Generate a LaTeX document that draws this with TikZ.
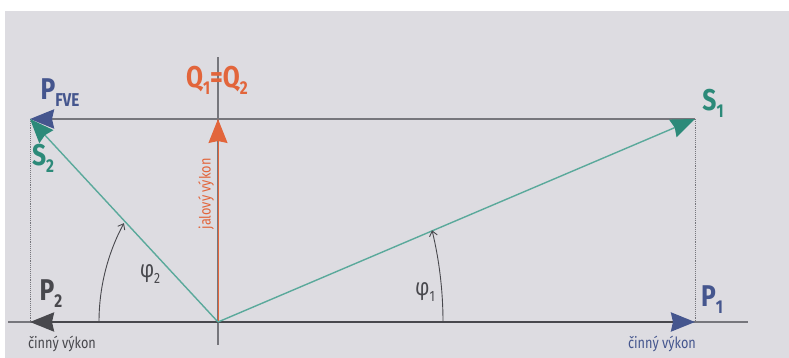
\documentclass[tikz,border=0pt]{standalone}
\usepackage{fontspec}
\setmainfont[FakeStretch=0.82]{Fira Sans}
\usetikzlibrary{arrows.meta}
\definecolor{bgrey}{HTML}{DDDCE1}
\definecolor{axgrey}{HTML}{76767C}
\definecolor{dgrey}{HTML}{48484D}
\definecolor{pblue}{HTML}{45568E}
\definecolor{steal}{HTML}{2C8A79}
\definecolor{ltteal}{HTML}{5AA99B}
\definecolor{qorange}{HTML}{E2653B}
\newcommand{\lowidx}[1]{\raisebox{-0.45ex}{\scalebox{0.62}{#1}}}
\tikzset{
  bigtip/.style={-{Stealth[length=24pt,width=19pt,inset=2pt,#1]}},
  axis/.style={draw=axgrey,line width=1.2pt},
  guide/.style={draw=axgrey,line width=0.9pt,densely dotted},
  pvec/.style={line width=2.8pt},
  svec/.style={draw=ltteal,line width=1.4pt},
  angarc/.style={draw=dgrey,line width=0.9pt,-{Straight Barb[length=5pt,width=8pt]}},
  lbl/.style={font=\fontsize{30}{30}\selectfont\bfseries,inner sep=0pt},
  phil/.style={font=\fontsize{24}{24}\selectfont,text=dgrey,inner sep=0pt},
  small/.style={font=\fontsize{15.5}{15.5}\selectfont,inner sep=0pt}
}
\begin{document}
\begin{tikzpicture}[x=1pt,y=1pt]
    \useasboundingbox (0,0) rectangle (789,358);
    %background
    \fill[bgrey] (5,0) rectangle (789,347);
    %points
    \coordinate (O) at (218,36);
    \coordinate (S1) at (695,239);
    \coordinate (S2) at (30,239);
    \coordinate (Q) at (218,239);
    \coordinate (P1) at (695,36);
    \coordinate (P2) at (30,36);
    \coordinate (xl) at (8,36);
    \coordinate (xr) at (748,36);
    \coordinate (yb) at (218,13);
    \coordinate (yt) at (218,301);
    %guides
    \draw[guide] (S2) -- (P2);
    \draw[guide] (S1) -- (P1);
    %axes
    \draw[axis] (xl) -- (xr);
    \draw[axis] (yb) -- (yt);
    %active power
    \draw[pvec,draw=dgrey,bigtip={color=dgrey}] (O) -- (P2);
    \draw[pvec,draw=dgrey,bigtip={color=pblue}] (O) -- (P1);
    \draw[pvec,draw=axgrey,bigtip={color=pblue}] (S1) -- (S2);
    %reactive power
    \draw[draw=qorange,line width=1pt,bigtip={color=qorange}] (O) -- (Q);
    %apparent power
    \draw[svec,bigtip={color=steal}] (O) -- (S1);
    \draw[svec,bigtip={color=steal}] (O) -- (S2);
    %angles
    \draw[angarc] (443,36) arc[start angle=0,end angle=13.6,radius=390];
    \draw[angarc] (99,36) arc[start angle=180,end angle=151.7,radius=208.5];
    %labels
    \node[lbl,text=qorange] (qlab) at (217,278) {Q\lowidx{1}=Q\lowidx{2}};
    \node[lbl,text=pblue] (pfve) at (60,265) {P\lowidx{FVE}};
    \node[lbl,text=steal] (s1lab) at (713,255) {S\lowidx{1}};
    \node[lbl,text=steal] (s2lab) at (43,200) {S\lowidx{2}};
    \node[lbl,text=dgrey] (p2lab) at (51,64) {P\lowidx{2}};
    \node[lbl,text=pblue] (p1lab) at (712,58) {P\lowidx{1}};
    \node[phil] (phi1) at (425,66) {φ\lowidx{1}};
    \node[phil] (phi2) at (150,84) {φ\lowidx{2}};
    \node[small,text=qorange,rotate=90] (jal) at (206,164) {jalový výkon};
    \node[small,text=dgrey] (cin2) at (62,14) {činný výkon};
    \node[small,text=pblue] (cin1) at (662,14) {činný výkon};
\end{tikzpicture}
\end{document}
